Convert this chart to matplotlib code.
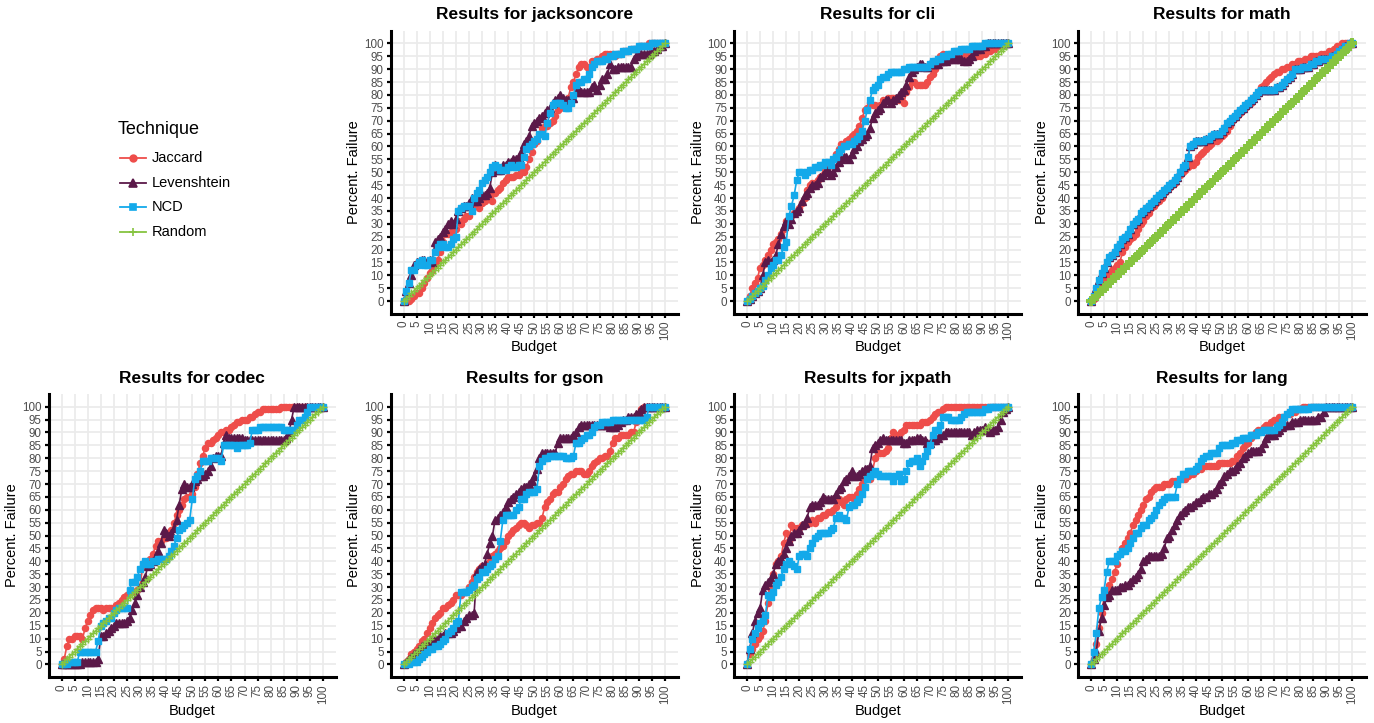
import matplotlib
matplotlib.use('Agg')
import matplotlib.pyplot as plt
from matplotlib.lines import Line2D

plt.rcParams['font.family'] = ['Liberation Sans', 'DejaVu Sans']

# ---------------- data ----------------
budget = [0, 1, 2, 3, 4, 5, 6, 7, 8, 9,
          10, 11, 12, 13, 14, 15, 16, 17, 18, 19,
          20, 21, 22, 23, 24, 25, 26, 27, 28, 29,
          30, 31, 32, 33, 34, 35, 36, 37, 38, 39,
          40, 41, 42, 43, 44, 45, 46, 47, 48, 49,
          50, 51, 52, 53, 54, 55, 56, 57, 58, 59,
          60, 61, 62, 63, 64, 65, 66, 67, 68, 69,
          70, 71, 72, 73, 74, 75, 76, 77, 78, 79,
          80, 81, 82, 83, 84, 85, 86, 87, 88, 89,
          90, 91, 92, 93, 94, 95, 96, 97, 98, 99,
          100]

random_pct = [0, 1, 2, 3, 4, 5, 6, 7, 8, 9,
              10, 11, 12, 13, 14, 15, 16, 17, 18, 19,
              20, 21, 22, 23, 24, 25, 26, 27, 28, 29,
              30, 31, 32, 33, 34, 35, 36, 37, 38, 39,
              40, 41, 42, 43, 44, 45, 46, 47, 48, 49,
              50, 51, 52, 53, 54, 55, 56, 57, 58, 59,
              60, 61, 62, 63, 64, 65, 66, 67, 68, 69,
              70, 71, 72, 73, 74, 75, 76, 77, 78, 79,
              80, 81, 82, 83, 84, 85, 86, 87, 88, 89,
              90, 91, 92, 93, 94, 95, 96, 97, 98, 99,
              100]

jackson_jac = [0, 0, 0, 1, 2, 3, 3, 5, 7, 9,
               11, 12, 14, 16, 19, 23, 26, 26, 27, 27,
               28, 31, 30, 32, 33, 33, 37, 38, 38, 36,
               38, 39, 40, 41, 39, 42, 43, 44, 46, 47,
               48, 48, 48, 49, 49, 50, 50, 52, 55, 58,
               61, 62, 65, 67, 68, 68, 69, 70, 72, 74,
               75, 77, 77, 79, 83, 85, 88, 91, 92, 92,
               91, 91, 93, 93, 94, 94, 95, 96, 96, 96,
               96, 95, 96, 96, 97, 97, 97, 98, 98, 98,
               99, 99, 99, 99, 100, 100, 100, 100, 100, 100,
               100]
jackson_lev = [0, 4, 7, 10, 14, 15, 15, 16, 16, 15,
               16, 15, 23, 24, 25, 27, 28, 30, 31, 30,
               32, 35, 36, 37, 37, 38, 40, 39, 39, 40,
               41, 41, 42, 44, 50, 53, 51, 51, 53, 53,
               54, 54, 55, 55, 56, 58, 61, 62, 64, 68,
               69, 70, 71, 72, 73, 74, 75, 77, 78, 79,
               80, 79, 78, 78, 79, 79, 81, 82, 81, 81,
               81, 81, 83, 84, 82, 84, 86, 86, 88, 92,
               90, 90, 91, 91, 91, 91, 91, 91, 94, 95,
               96, 96, 96, 96, 96, 97, 97, 98, 99, 99,
               100]
jackson_ncd = [0, 4, 7, 12, 12, 14, 15, 16, 14, 14,
               16, 16, 19, 21, 22, 22, 21, 21, 22, 24,
               25, 35, 36, 37, 37, 37, 35, 40, 42, 43,
               46, 47, 48, 50, 52, 53, 52, 51, 51, 51,
               52, 53, 52, 52, 53, 53, 56, 59, 60, 61,
               62, 63, 65, 65, 64, 69, 73, 76, 77, 77,
               77, 76, 75, 75, 77, 80, 84, 85, 85, 86,
               86, 88, 91, 92, 93, 93, 93, 94, 94, 95,
               95, 96, 96, 96, 97, 97, 97, 98, 98, 98,
               99, 99, 99, 99, 99, 100, 100, 100, 100, 100,
               100]

cli_jac = [0, 2, 5, 7, 9, 13, 14, 16, 18, 20,
           22, 23, 24, 26, 28, 31, 32, 33, 34, 35,
           36, 38, 40, 43, 45, 46, 46, 47, 48, 49,
           51, 52, 53, 55, 57, 59, 61, 61, 62, 63,
           64, 65, 66, 68, 71, 74, 75, 77, 76, 76,
           75, 76, 78, 78, 79, 79, 79, 79, 78, 78,
           77, 81, 83, 85, 85, 84, 84, 84, 84, 85,
           87, 88, 90, 94, 95, 96, 95, 95, 95, 94,
           94, 94, 95, 95, 95, 95, 95, 95, 95, 95,
           96, 96, 97, 97, 98, 98, 99, 99, 100, 100,
           100]
cli_lev = [0, 1, 2, 3, 4, 5, 10, 15, 16, 15,
           16, 18, 22, 26, 29, 31, 30, 32, 34, 35,
           36, 39, 41, 42, 44, 45, 45, 46, 48, 49,
           50, 51, 49, 50, 52, 54, 55, 56, 56, 55,
           57, 59, 60, 62, 63, 64, 65, 67, 71, 73,
           74, 75, 77, 78, 78, 77, 78, 79, 80, 81,
           82, 84, 87, 89, 90, 91, 92, 92, 91, 91,
           92, 92, 92, 92, 93, 93, 93, 94, 94, 94,
           95, 94, 94, 93, 93, 94, 95, 97, 98, 98,
           99, 99, 100, 100, 100, 100, 100, 100, 100, 100,
           100]
cli_ncd = [0, 1, 2, 3, 4, 5, 6, 8, 10, 13,
           14, 16, 16, 18, 21, 23, 33, 37, 41, 47,
           50, 50, 49, 50, 51, 51, 52, 52, 53, 53,
           54, 54, 53, 55, 56, 58, 59, 60, 60, 61,
           61, 62, 63, 64, 66, 70, 74, 78, 82, 83,
           84, 86, 87, 87, 88, 89, 89, 89, 89, 89,
           90, 90, 91, 91, 91, 91, 91, 91, 91, 91,
           92, 93, 93, 94, 94, 95, 95, 96, 96, 97,
           97, 97, 98, 98, 98, 98, 99, 99, 99, 99,
           99, 100, 100, 100, 100, 100, 100, 100, 100, 100,
           100]

math_jac = [0, 1, 2, 4, 7, 9, 10, 11, 12, 13,
            14, 15, 19, 21, 23, 24, 25, 26, 28, 30,
            31, 33, 34, 36, 37, 38, 39, 40, 42, 43,
            44, 45, 46, 48, 49, 50, 51, 52, 53, 53,
            54, 56, 57, 58, 59, 60, 61, 62, 62, 63,
            64, 65, 66, 68, 70, 71, 72, 73, 74, 75,
            76, 77, 79, 80, 81, 83, 84, 85, 86, 87,
            88, 89, 89, 90, 90, 91, 91, 92, 92, 93,
            93, 93, 94, 94, 95, 95, 95, 95, 96, 96,
            96, 97, 97, 98, 99, 99, 100, 100, 100, 100,
            100]
math_ncd = [0, 2, 5, 8, 11, 13, 15, 17, 18, 19,
            21, 22, 24, 25, 26, 28, 30, 31, 32, 34,
            35, 36, 37, 38, 39, 40, 41, 42, 43, 44,
            45, 46, 47, 48, 50, 52, 53, 56, 60, 61,
            62, 62, 62, 62, 63, 63, 64, 65, 65, 65,
            66, 67, 69, 70, 71, 72, 73, 74, 75, 76,
            77, 78, 79, 80, 81, 82, 82, 82, 82, 82,
            82, 83, 83, 84, 85, 86, 87, 88, 90, 90,
            90, 91, 91, 91, 92, 92, 93, 93, 94, 94,
            94, 94, 95, 95, 96, 97, 98, 99, 99, 100,
            100]
math_lev = list(math_ncd)

codec_jac = [0, 2, 7, 10, 10, 11, 11, 11, 10, 14,
             17, 19, 21, 22, 22, 22, 21, 22, 22, 22,
             22, 23, 24, 25, 26, 27, 28, 28, 28, 29,
             30, 38, 38, 39, 41, 43, 46, 48, 48, 49,
             49, 51, 52, 55, 58, 60, 62, 64, 65, 65,
             66, 69, 74, 78, 81, 84, 86, 86, 87, 88,
             89, 90, 90, 91, 91, 92, 93, 94, 94, 95,
             95, 95, 96, 96, 97, 98, 98, 99, 99, 99,
             99, 99, 99, 99, 100, 100, 100, 100, 100, 100,
             100, 100, 100, 100, 100, 100, 100, 100, 100, 100,
             100]
codec_lev = [0, 0, 0, 0, 0, 0, 0, 0, 1, 1,
             1, 1, 1, 1, 2, 11, 11, 12, 13, 14,
             15, 16, 16, 16, 16, 17, 18, 21, 24, 27,
             30, 32, 34, 38, 39, 40, 42, 44, 47, 52,
             51, 50, 51, 53, 56, 62, 68, 70, 69, 69,
             70, 71, 72, 73, 73, 74, 75, 77, 80, 81,
             81, 81, 86, 89, 88, 88, 88, 88, 88, 88,
             87, 87, 87, 87, 87, 87, 87, 87, 87, 87,
             87, 87, 87, 87, 87, 87, 88, 90, 95, 100,
             100, 100, 100, 100, 100, 100, 100, 100, 100, 100,
             100]
codec_ncd = [0, 0, 0, 1, 1, 1, 1, 5, 5, 5,
             5, 5, 5, 5, 9, 15, 16, 17, 18, 18,
             20, 21, 22, 22, 22, 22, 29, 32, 32, 34,
             37, 39, 40, 39, 39, 40, 40, 41, 41, 41,
             41, 42, 44, 46, 49, 52, 53, 54, 55, 56,
             64, 72, 73, 75, 79, 79, 79, 80, 80, 80,
             80, 79, 85, 85, 85, 85, 85, 84, 85, 85,
             85, 85, 86, 91, 91, 91, 92, 92, 92, 92,
             92, 92, 92, 92, 92, 91, 91, 91, 91, 91,
             93, 95, 95, 96, 98, 100, 100, 100, 100, 100,
             100]

gson_jac = [0, 1, 2, 4, 5, 6, 7, 9, 10, 12,
            14, 16, 18, 19, 20, 22, 22, 23, 24, 25,
            27, 27, 27, 28, 28, 30, 32, 34, 36, 37,
            38, 38, 39, 40, 42, 43, 44, 45, 46, 48,
            50, 51, 52, 53, 54, 55, 55, 54, 53, 54,
            54, 55, 55, 57, 61, 63, 64, 66, 67, 67,
            69, 70, 72, 73, 74, 74, 75, 75, 75, 74,
            74, 75, 77, 78, 79, 80, 80, 81, 81, 83,
            86, 88, 88, 89, 89, 89, 89, 90, 90, 94,
            97, 99, 100, 100, 100, 100, 100, 100, 100, 100,
            100]
gson_lev = [0, 1, 2, 3, 4, 5, 6, 7, 7, 8,
            9, 9, 10, 10, 11, 11, 12, 12, 12, 13,
            14, 15, 15, 17, 18, 19, 19, 20, 36, 37,
            38, 39, 43, 47, 50, 56, 57, 58, 59, 61,
            63, 64, 65, 66, 67, 68, 69, 69, 70, 71,
            73, 76, 80, 82, 82, 82, 82, 82, 82, 86,
            88, 88, 88, 88, 88, 89, 90, 92, 93, 93,
            93, 93, 93, 93, 93, 93, 93, 93, 93, 92,
            92, 92, 93, 94, 95, 95, 96, 96, 96, 97,
            98, 99, 100, 100, 100, 100, 100, 100, 100, 100,
            100]
gson_ncd = [0, 0, 0, 1, 1, 1, 2, 3, 4, 5,
            6, 6, 7, 7, 8, 9, 10, 12, 13, 14,
            16, 17, 28, 28, 28, 29, 30, 31, 33, 34,
            36, 36, 37, 38, 39, 41, 42, 48, 56, 58,
            58, 58, 58, 60, 61, 64, 64, 66, 67, 67,
            67, 68, 77, 79, 80, 80, 81, 81, 81, 81,
            81, 81, 80, 80, 80, 81, 86, 86, 87, 88,
            89, 89, 90, 92, 93, 93, 94, 94, 94, 94,
            95, 95, 95, 95, 95, 95, 95, 95, 95, 95,
            95, 95, 95, 96, 100, 100, 100, 100, 100, 100,
            100]

jxpath_jac = [0, 4, 6, 8, 10, 11, 13, 17, 24, 29,
              35, 39, 40, 42, 47, 51, 48, 54, 53, 53,
              53, 54, 54, 55, 55, 56, 55, 57, 57, 58,
              58, 59, 59, 60, 61, 64, 63, 62, 64, 65,
              65, 64, 66, 68, 70, 72, 72, 72, 75, 80,
              82, 82, 82, 83, 84, 88, 90, 89, 89, 90,
              91, 93, 93, 93, 93, 93, 93, 94, 94, 94,
              95, 96, 97, 98, 98, 99, 100, 100, 100, 100,
              100, 100, 100, 100, 100, 100, 100, 100, 100, 100,
              100, 100, 100, 100, 100, 100, 100, 100, 100, 100,
              100]
jxpath_lev = [0, 6, 12, 17, 20, 22, 29, 31, 32, 33,
              35, 39, 40, 41, 43, 45, 48, 50, 51, 51,
              52, 54, 55, 57, 61, 62, 62, 62, 63, 65,
              64, 64, 64, 64, 66, 68, 69, 71, 72, 73,
              75, 73, 73, 74, 75, 76, 76, 77, 84, 85,
              86, 87, 88, 87, 87, 87, 87, 87, 87, 87,
              86, 86, 87, 87, 87, 88, 88, 87, 87, 86,
              86, 87, 87, 88, 89, 89, 90, 90, 90, 90,
              90, 90, 90, 90, 90, 90, 89, 90, 91, 91,
              91, 92, 91, 90, 91, 91, 92, 95, 98, 99,
              100]
jxpath_ncd = [0, 6, 10, 12, 14, 16, 17, 19, 27, 26,
              28, 31, 32, 34, 37, 39, 40, 39, 38, 37,
              42, 43, 43, 42, 45, 47, 49, 50, 51, 51,
              51, 51, 52, 53, 57, 58, 57, 57, 56, 61,
              62, 62, 63, 64, 66, 69, 72, 73, 74, 75,
              74, 73, 73, 73, 73, 73, 71, 73, 74, 71,
              72, 75, 78, 79, 79, 80, 77, 79, 81, 83,
              85, 89, 91, 91, 93, 96, 96, 96, 95, 95,
              95, 95, 96, 97, 98, 98, 98, 98, 98, 98,
              98, 99, 99, 100, 100, 100, 100, 100, 100, 100,
              100]

lang_jac = [0, 2, 8, 14, 20, 26, 29, 31, 33, 36,
            39, 43, 45, 47, 49, 51, 54, 56, 58, 60,
            62, 64, 65, 67, 68, 69, 69, 69, 70, 70,
            70, 71, 71, 71, 72, 72, 72, 73, 74, 74,
            75, 76, 76, 77, 77, 77, 77, 77, 77, 78,
            78, 78, 78, 78, 79, 79, 81, 82, 84, 85,
            86, 88, 89, 90, 91, 91, 92, 93, 93, 94,
            95, 95, 96, 96, 96, 97, 97, 98, 98, 99,
            99, 100, 100, 100, 100, 100, 100, 100, 100, 100,
            100, 100, 100, 100, 100, 100, 100, 100, 100, 100,
            100]
lang_lev = [0, 2, 5, 13, 18, 23, 26, 27, 29, 29,
            29, 30, 30, 31, 31, 32, 33, 34, 35, 37,
            40, 41, 42, 42, 42, 42, 42, 43, 45, 49,
            50, 52, 54, 56, 58, 59, 60, 61, 61, 62,
            63, 63, 64, 65, 65, 66, 66, 67, 68, 70,
            71, 73, 74, 75, 75, 76, 77, 78, 80, 81,
            82, 83, 83, 83, 83, 84, 86, 88, 89, 89,
            89, 90, 91, 92, 93, 93, 93, 94, 94, 94,
            95, 95, 95, 95, 95, 95, 95, 96, 96, 98,
            100, 100, 100, 100, 100, 100, 100, 100, 100, 100,
            100]
lang_ncd = [0, 5, 12, 22, 26, 29, 36, 40, 40, 40,
            42, 43, 44, 44, 45, 47, 49, 51, 51, 53,
            54, 54, 56, 57, 58, 60, 62, 63, 64, 65,
            65, 65, 65, 70, 72, 74, 74, 75, 75, 75,
            76, 77, 79, 80, 81, 81, 82, 82, 82, 84,
            85, 85, 85, 85, 86, 86, 87, 87, 88, 88,
            88, 89, 89, 89, 90, 90, 91, 91, 91, 91,
            91, 92, 93, 94, 96, 97, 98, 99, 99, 99,
            99, 99, 99, 99, 100, 100, 100, 100, 100, 100,
            100, 100, 100, 100, 100, 100, 100, 100, 100, 100,
            100]

techniques = ['Jaccard', 'Levenshtein', 'NCD', 'Random']
tick_values = [0, 5, 10, 15, 20, 25, 30, 35, 40, 45, 50,
               55, 60, 65, 70, 75, 80, 85, 90, 95, 100]

panels = [
    ('jacksoncore', jackson_jac, jackson_lev, jackson_ncd),
    ('cli', cli_jac, cli_lev, cli_ncd),
    ('math', math_jac, math_lev, math_ncd),
    ('codec', codec_jac, codec_lev, codec_ncd),
    ('gson', gson_jac, gson_lev, gson_ncd),
    ('jxpath', jxpath_jac, jxpath_lev, jxpath_ncd),
    ('lang', lang_jac, lang_lev, lang_ncd),
]

# ---------------- style ----------------
colors = {'Jaccard': '#EE4D4A', 'Levenshtein': '#5B1949',
          'NCD': '#13A9EA', 'Random': '#86C440'}
markers = {'Jaccard': ('o', 4.4), 'Levenshtein': ('^', 5.4),
           'NCD': ('s', 4.6), 'Random': ('+', 5.6)}

W, H = 1374, 723
fig = plt.figure(figsize=(W / 100, H / 100), dpi=100)
fig.patch.set_facecolor('white')

col_left = [48.5, 390.5, 734.0, 1078.0]
ax_w = 287.5
ax_h = 283.5
row_top = [30.5, 393.8]
slots = [(0, 1), (0, 2), (0, 3), (1, 0), (1, 1), (1, 2), (1, 3)]

for (name, jac, lev, ncd), (r, c) in zip(panels, slots):
    left = col_left[c]
    top = row_top[r]
    ax = fig.add_axes([left / W, 1 - (top + ax_h) / H, ax_w / W, ax_h / H])
    ax.set_xlim(-5, 105)
    ax.set_ylim(-5, 105)
    ax.set_xticks(tick_values)
    ax.set_yticks(tick_values)
    ax.set_xticklabels([str(t) for t in tick_values], rotation=90)
    ax.set_yticklabels([str(t) for t in tick_values])
    ax.grid(True, color='#EBEBEB', linewidth=1.25)
    ax.set_axisbelow(True)
    for s in ['top', 'right']:
        ax.spines[s].set_visible(False)
    for s in ['left', 'bottom']:
        ax.spines[s].set_linewidth(2.2)
        ax.spines[s].set_color('black')
    ax.tick_params(length=3.2, width=1.6, color='black', labelcolor='#4D4D4D',
                   labelsize=8.4, pad=1.8)
    series = [('Jaccard', jac), ('Levenshtein', lev), ('NCD', ncd),
              ('Random', random_pct)]
    for tech, vals in series:
        m, ms = markers[tech]
        mew = 1.0
        if tech == 'Random' and name == 'math':
            ms, mew = 6.5, 2.8
        ax.plot(budget, vals, color=colors[tech], lw=1.2, marker=m,
                markersize=ms, markeredgewidth=mew, markeredgecolor=colors[tech],
                markerfacecolor=colors[tech], clip_on=False, zorder=3)
    ax.set_xlabel('Budget', fontsize=10.5, labelpad=0)
    ax.set_ylabel('Percent. Failure', fontsize=10.5, labelpad=2)
    ax.set_title('Results for ' + name, fontsize=12.5, fontweight='bold', pad=8)

# ---------------- legend ----------------
fig.text(118 / W, 1 - 129 / H, 'Technique', fontsize=13, va='center', ha='left')
leg_y = [158, 183, 207, 232]
for tech, yy in zip(techniques, leg_y):
    m, ms = markers[tech]
    ln = Line2D([120 / W, 146 / W], [1 - yy / H, 1 - yy / H],
                transform=fig.transFigure, color=colors[tech], lw=1.3)
    fig.add_artist(ln)
    mk = Line2D([133 / W], [1 - yy / H], transform=fig.transFigure,
                color=colors[tech], marker=m, markersize=ms + 0.4,
                markeredgewidth=1.2, linestyle='None')
    fig.add_artist(mk)
    fig.text(152 / W, 1 - yy / H, tech, fontsize=10.5, va='center', ha='left')

fig.savefig('out.png', dpi=100, facecolor='white')
